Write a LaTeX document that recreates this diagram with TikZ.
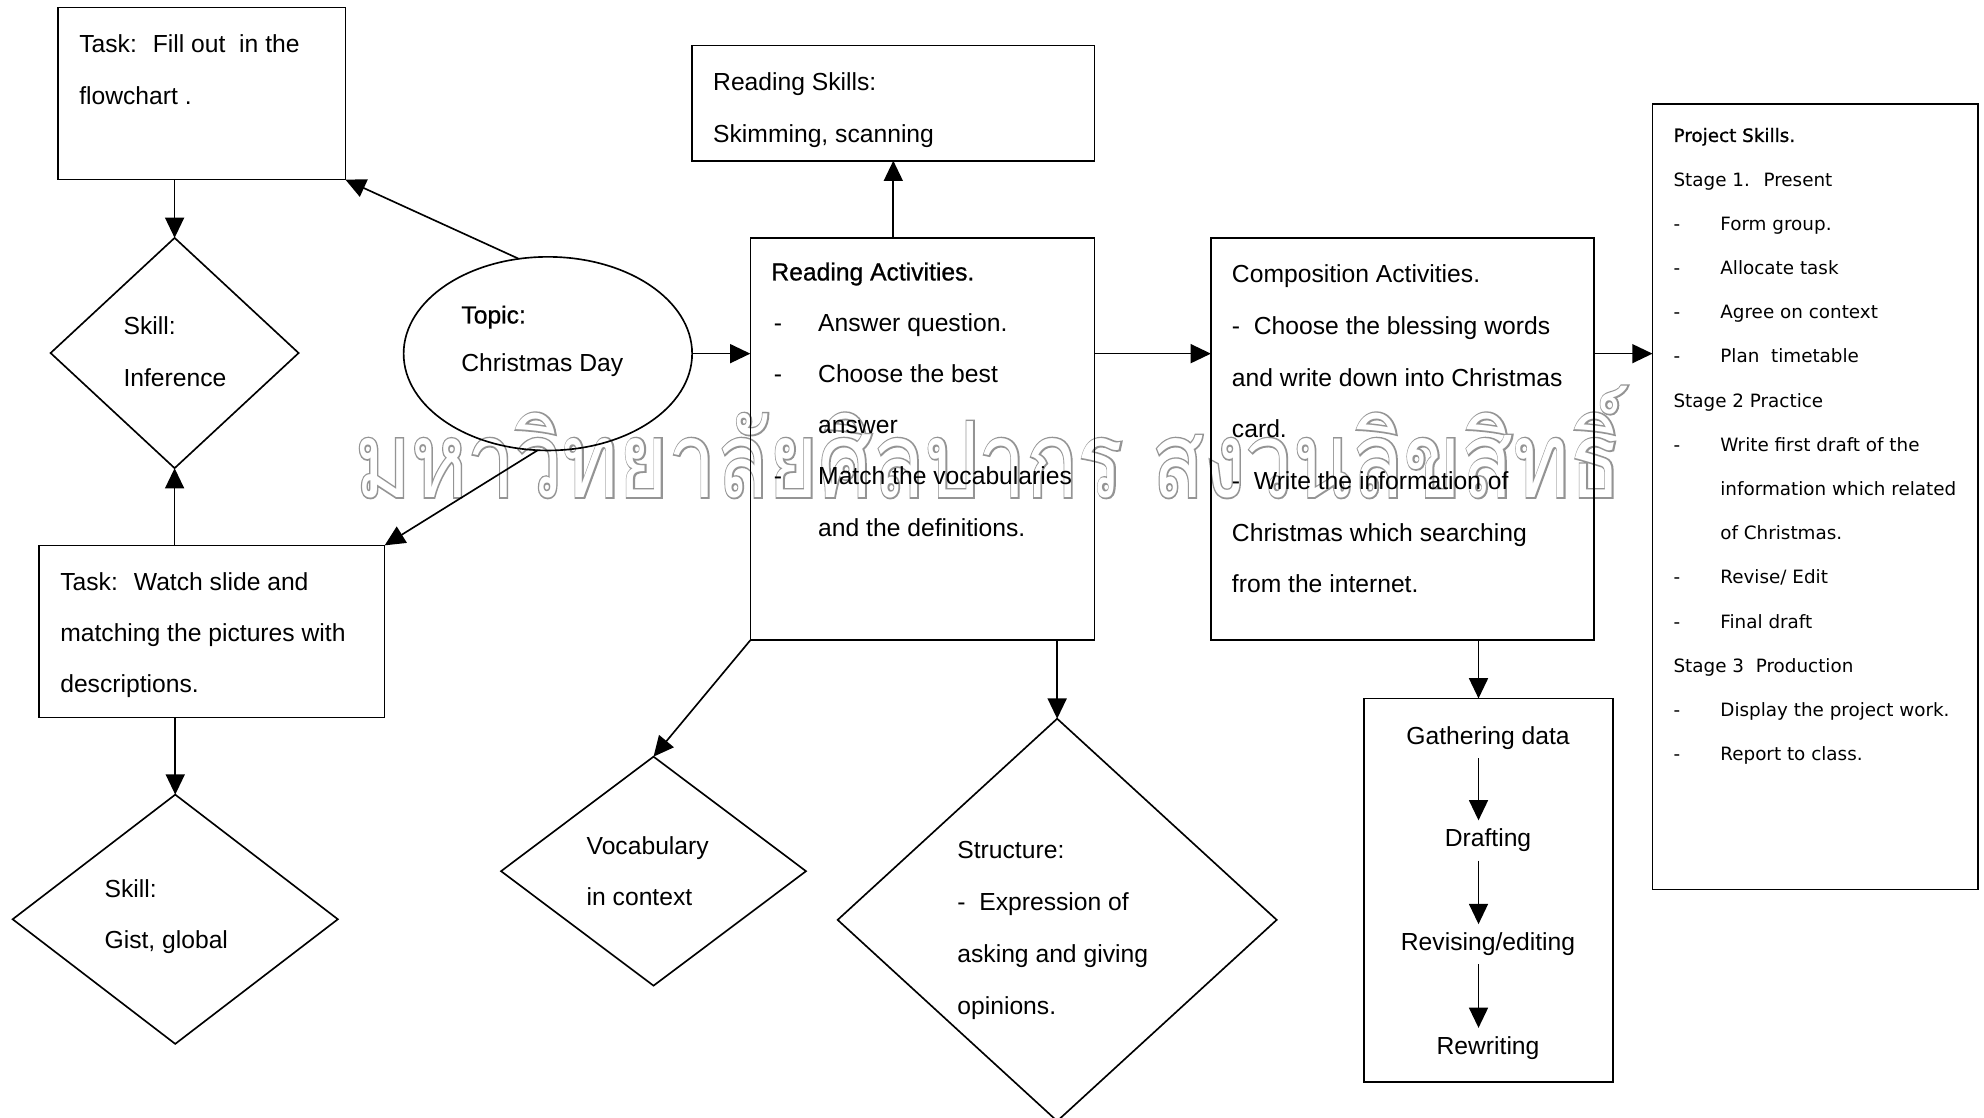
\documentclass[tikz,border=0pt]{standalone}
\usepackage{fontspec}
\setmainfont{Liberation Sans}
\newfontfamily\psfont{DejaVu Sans}
\newfontfamily\psbold[FakeBold=1]{DejaVu Sans}
\newfontfamily\semibold[FakeBold=0.8]{Liberation Sans}
\newfontfamily\thaifont[Script=Thai]{Loma}
\newfontfamily\thaiwide[Script=Thai,FakeBold=3]{Loma}
\usepackage{graphicx}
\usetikzlibrary{shapes.geometric,arrows.meta}
\newsavebox\wmbox
\newcommand\wmtext{มหาวิทยาลัยศิลปากร สงวนลิขสิทธิ์}
\begin{document}
\sbox\wmbox{\thaifont\fontsize{20}{24}\selectfont\wmtext}
\pgfmathsetmacro\wmsx{1001/(\the\wd\wmbox)}
\pgfmathsetmacro\wmsy{88/(\the\ht\wmbox)}
\begin{tikzpicture}[x=1pt,y=-1pt,line width=1.3pt,
  box/.style={draw,rectangle,inner sep=0pt,outer sep=0pt},
  dia/.style={draw,diamond,inner sep=0pt,outer sep=0pt},
  arr/.style={-{Triangle[length=16pt,width=15pt]}},
  txt/.style={anchor=north west,inner sep=0pt,align=left,font=\fontsize{19.5}{#1}\selectfont},
  ptxt/.style={anchor=base,inner xsep=0pt,inner ysep=6pt,text height=14pt,text depth=4.5pt,font=\fontsize{19.5}{24}\selectfont},
  wm/.style={anchor=base west,inner sep=0pt}
]
\clip (0,0) rectangle (1568,883);
\fill[white] (0,0) rectangle (1568,883);

% watermark (outlined letters)
\node[wm,text=black!42] (wmo) at (280,393)
  {\scalebox{\wmsx}[\wmsy]{\thaiwide\fontsize{20}{24}\selectfont\wmtext}};
\node[wm,text=white] (wmi) at (280,393)
  {\scalebox{\wmsx}[\wmsy]{\thaifont\fontsize{20}{24}\selectfont\wmtext}};

% shapes
\node[box,minimum width=227pt,minimum height=136pt] (t1) at (159.5,74) {};
\node[box,minimum width=273pt,minimum height=136pt] (t2) at (167.5,499) {};
\node[box,minimum width=318pt,minimum height=91pt] (rs) at (706,81.5) {};
\node[box,minimum width=272pt,minimum height=318pt] (ra) at (729,347) {};
\node[box,minimum width=303pt,minimum height=318pt] (ca) at (1108.5,347) {};
\node[box,minimum width=257pt,minimum height=621pt] (ps) at (1434.5,392.5) {};
\node[box,minimum width=197pt,minimum height=303pt] (pb) at (1176.5,703.5) {};
\node[draw,ellipse,inner sep=0pt,outer sep=0pt,minimum width=228pt,minimum height=153pt] (topic) at (433,279.5) {};
\node[dia,minimum width=196pt,minimum height=182pt] (inf) at (138,279) {};
\node[dia,minimum width=257pt,minimum height=197pt] (gist) at (138.5,726.5) {};
\node[dia,minimum width=241pt,minimum height=181pt] (voc) at (516.5,688.5) {};
\node[dia,minimum width=347pt,minimum height=318pt] (st) at (835.5,727) {};

% texts
\node[txt=41] (t1t) at (62,12.3) {\strut Task:~ Fill out~ in the\\flowchart .};
\node[txt=41] (inft) at (97,235.3) {\strut Skill:\\Inference};
\node[txt=38] (topt) at (364,228.4) {\semibold\strut Topic:\\Christmas Day};
\node[txt=40.5] (t2t) at (47,437.6) {\strut Task:~ Watch slide and\\matching the pictures with\\descriptions.};
\node[txt=40] (gistt) at (82,681) {\strut Skill:\\Gist, global};
\node[txt=41] (rst) at (563,42.3) {\strut Reading Skills:\\Skimming, scanning};
\node[txt=40.4] (rat) at (609,192.7) {\strut{\semibold Reading Activities.}\\
  \makebox[37pt][l]{\hspace{2pt}-}Answer question.\\
  \makebox[37pt][l]{\hspace{2pt}-}Choose the best\\
  \hspace*{37pt}answer\\
  \makebox[37pt][l]{\hspace{2pt}-}Match the vocabularies\\
  \hspace*{37pt}and the definitions.};
\node[txt=40.8] (cat) at (973,194.4) {\strut Composition Activities.\\
  -~ Choose the blessing words\\
  and write down into Christmas\\
  card.\\
  -~ Write the information of\\
  Christmas which searching\\
  from the internet.};
\node[txt=40] (voct) at (463,647) {\strut Vocabulary\\in context};
\node[txt=41] (stt) at (756,649.3) {\strut Structure:\\-~ Expression of\\asking and giving\\opinions.};
\node[anchor=north west,inner sep=0pt,align=left,font=\psfont\fontsize{14.5}{34.93}\selectfont] (pst) at (1322,87.05) {\strut{\psbold Project Skills.}\\
  Stage 1.~ Present\\
  \makebox[37pt][l]{-}Form group.\\
  \makebox[37pt][l]{-}Allocate task\\
  \makebox[37pt][l]{-}Agree on context\\
  \makebox[37pt][l]{-}Plan~ timetable\\
  Stage 2 Practice\\
  \makebox[37pt][l]{-}Write first draft of the\\
  \hspace*{37pt}information which related\\
  \hspace*{37pt}of Christmas.\\
  \makebox[37pt][l]{-}Revise/ Edit\\
  \makebox[37pt][l]{-}Final draft\\
  Stage 3~ Production\\
  \makebox[37pt][l]{-}Display the project work.\\
  \makebox[37pt][l]{-}Report to class.};

% process box
\coordinate (ax) at (1168.5,0);
\node[ptxt] (gd) at (1176,588) {Gathering data};
\node[ptxt] (dr) at (1176,669) {Drafting};
\node[ptxt] (re) at (1176,751) {Revising/editing};
\node[ptxt] (rw) at (1176,833) {Rewriting};
\draw[arr] (gd.south -| ax) -- (dr.north -| ax);
\draw[arr] (dr.south -| ax) -- (re.north -| ax);
\draw[arr] (re.south -| ax) -- (rw.north -| ax);

% connectors
\draw[arr] (inf.north |- t1.south) -- (inf.north);
\draw[arr] (inf.south |- t2.north) -- (inf.south);
\draw[arr] (gist.north |- t2.south) -- (gist.north);
\draw[arr] (topic.107) -- (t1.south east);
\draw[arr] (topic.264) -- (t2.north east);
\draw[arr] (topic.east) -- (ra.west |- topic.east);
\draw[arr] (rs.south |- ra.north) -- (rs.south);
\draw[arr] (ra.east |- topic.east) -- (ca.west |- topic.east);
\draw[arr] (ca.east |- topic.east) -- (ps.west |- topic.east);
\draw[arr] (ra.south west) -- (voc.north);
\draw[arr] (st.north |- ra.south) -- (st.north);
\draw[arr] (ca.south -| ax) -- (pb.north -| ax);
\end{tikzpicture}
\end{document}
